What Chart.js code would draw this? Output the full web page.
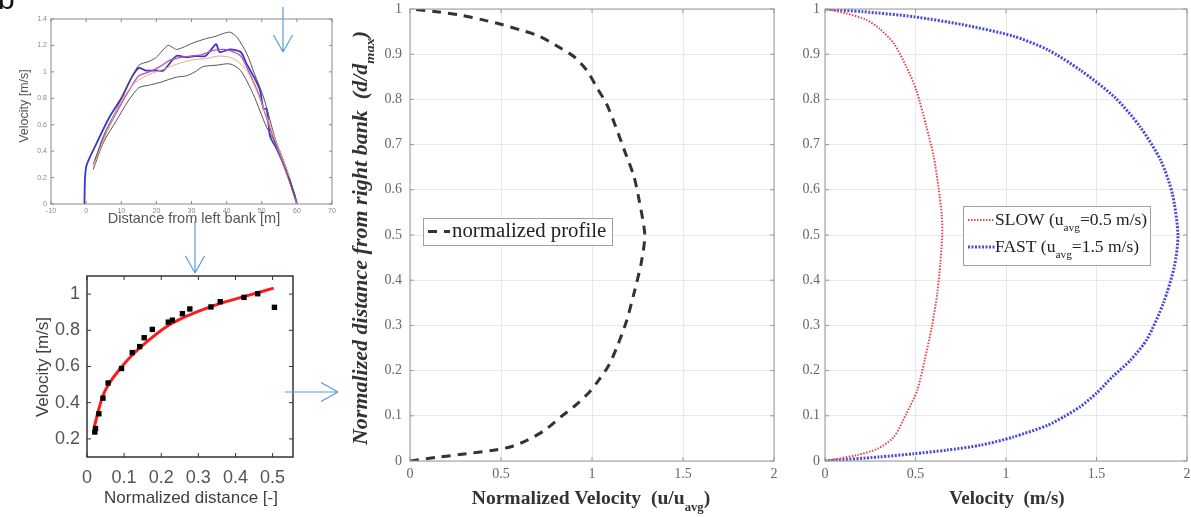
<!DOCTYPE html>
<html>
<head>
<meta charset="utf-8">
<script src="https://cdn.jsdelivr.net/npm/chart.js@4.4.1/dist/chart.umd.min.js"></script>
<style>
  body { margin: 0; background: #fff; width: 1191px; height: 517px; overflow: hidden; position: relative; }
  .panel { position: absolute; }
  #arrows { position: absolute; left: 0; top: 0; pointer-events: none; }
</style>
</head>
<body>
<div class="panel" style="left:0;top:0;width:340px;height:232px"><canvas id="crossChart"></canvas></div>
<div class="panel" style="left:0;top:240px;width:340px;height:277px"><canvas id="fitChart"></canvas></div>
<div class="panel" style="left:340px;top:0;width:440px;height:517px"><canvas id="normChart"></canvas></div>
<div class="panel" style="left:780px;top:0;width:411px;height:517px"><canvas id="speedChart"></canvas></div>
<canvas id="arrows" width="1191" height="517"></canvas>
<script>
// ---- cross-section velocity (top left) ----
const crossTicksX = [-10, 0, 10, 20, 30, 40, 50, 60, 70];
const crossTicksY = [0, 0.2, 0.4, 0.6, 0.8, 1, 1.2, 1.4];
const blueX = [-0.5, 0, 3, 6.7, 10, 13, 15, 17, 20, 22, 25.7, 28.6, 31, 34, 37, 38, 41, 44, 45.7, 48, 49.5, 50.5, 51.4, 52.4, 54, 57, 59.5, 60];
const blueY = [0, 0.28, 0.46, 0.66, 0.8, 0.96, 1.03, 1.01, 1.01, 1.01, 1.12, 1.11, 1.12, 1.12, 1.21, 1.15, 1.17, 1.15, 1.06, 0.95, 0.86, 0.72, 0.72, 0.51, 0.43, 0.25, 0.055, 0];
const upperX = [2.5, 5, 8.6, 12, 15, 18, 20, 23.3, 25.7, 28, 30.5, 34, 37, 39, 41, 43, 45.7, 48, 50.5, 54, 57, 59.5];
const upperY = [0.33, 0.52, 0.71, 0.9, 1.05, 1.08, 1.11, 1.2, 1.17, 1.19, 1.22, 1.25, 1.27, 1.29, 1.3, 1.26, 1.14, 0.98, 0.81, 0.48, 0.27, 0.06];
const lowerX = [2, 5, 8.6, 12, 15, 18, 21, 25.7, 28.6, 31, 33.3, 37, 41, 44, 47.6, 51.4, 55, 57.5, 59.5];
const lowerY = [0.26, 0.47, 0.63, 0.78, 0.88, 0.9, 0.92, 0.96, 0.97, 1.0, 1.04, 1.05, 1.06, 1.01, 0.83, 0.58, 0.41, 0.22, 0.04];
const magentaX = [2, 5, 8, 12, 15, 18, 21, 24, 27, 30, 33, 36, 39, 41, 44, 46, 49, 52, 55, 58, 60];
const magentaY = [0.3, 0.5, 0.66, 0.85, 0.97, 1.0, 1.04, 1.09, 1.11, 1.12, 1.13, 1.16, 1.17, 1.16, 1.12, 1.02, 0.84, 0.6, 0.38, 0.16, 0];
const orangeX = [2, 6, 10, 14, 18, 22, 26, 30, 34, 38, 42, 46, 50, 54, 58];
const orangeY = [0.28, 0.55, 0.78, 0.92, 0.98, 1.02, 1.06, 1.09, 1.1, 1.12, 1.1, 1.0, 0.76, 0.48, 0.2];

// ---- velocity vs normalized distance (bottom left) ----
const fitTicksX = [0, 0.1, 0.2, 0.3, 0.4, 0.5];
const fitTicksY = [0.2, 0.4, 0.6, 0.8, 1];
const measX = [0.021, 0.023, 0.032, 0.043, 0.057, 0.093, 0.122, 0.142, 0.154, 0.176, 0.219, 0.23, 0.257, 0.277, 0.334, 0.359, 0.423, 0.46, 0.505];
const measY = [0.238, 0.257, 0.339, 0.425, 0.509, 0.589, 0.677, 0.71, 0.759, 0.805, 0.845, 0.856, 0.892, 0.918, 0.929, 0.958, 0.982, 1.002, 0.927];
const curveX = [0.019, 0.03, 0.043, 0.061, 0.088, 0.124, 0.169, 0.214, 0.268, 0.323, 0.377, 0.43, 0.503];
const curveY = [0.26, 0.35, 0.44, 0.51, 0.585, 0.668, 0.75, 0.82, 0.878, 0.923, 0.96, 0.99, 1.033];

// ---- profiles (middle and right) ----
const profTicksX = [0, 0.5, 1, 1.5, 2];
const profTicksY = [0, 0.1, 0.2, 0.3, 0.4, 0.5, 0.6, 0.7, 0.8, 0.9, 1];
const normDist = [0, 0.009, 0.016, 0.024, 0.031, 0.046, 0.068, 0.098, 0.12, 0.15, 0.175, 0.21, 0.255, 0.31, 0.37, 0.437, 0.5, 0.575, 0.63, 0.685, 0.74, 0.79, 0.824, 0.865, 0.895, 0.92, 0.94, 0.952, 0.965, 0.976, 0.987, 0.994, 1];
const normVel = [0, 0.165, 0.31, 0.46, 0.55, 0.645, 0.74, 0.83, 0.9, 0.98, 1.03, 1.09, 1.14, 1.19, 1.23, 1.27, 1.29, 1.26, 1.23, 1.18, 1.13, 1.08, 1.03, 0.97, 0.9, 0.8, 0.71, 0.62, 0.51, 0.4, 0.27, 0.145, 0];
const slowDist = [0, 0.013, 0.027, 0.053, 0.105, 0.157, 0.222, 0.296, 0.37, 0.437, 0.5, 0.54, 0.606, 0.675, 0.74, 0.82, 0.872, 0.924, 0.957, 0.976, 0.99, 1];
const slowVel = [0, 0.175, 0.29, 0.38, 0.45, 0.51, 0.55, 0.59, 0.62, 0.637, 0.648, 0.646, 0.627, 0.6, 0.56, 0.505, 0.45, 0.38, 0.3, 0.23, 0.12, 0.01];
const fastDist = [0, 0.009, 0.016, 0.024, 0.035, 0.053, 0.079, 0.098, 0.12, 0.15, 0.187, 0.224, 0.27, 0.35, 0.43, 0.5, 0.59, 0.665, 0.74, 0.805, 0.865, 0.91, 0.94, 0.965, 0.983, 0.994, 1];
const fastVel = [0, 0.3, 0.49, 0.67, 0.86, 1.04, 1.23, 1.32, 1.41, 1.5, 1.59, 1.69, 1.78, 1.87, 1.93, 1.95, 1.92, 1.855, 1.74, 1.6, 1.41, 1.23, 1.04, 0.765, 0.49, 0.21, 0];

const SERIF = "'Liberation Serif', 'DejaVu Serif', serif";
const SANS = "'Liberation Sans', Arial, sans-serif";

function pts(xs, ys) {
    return xs.map((x, i) => ({ x: x, y: ys[i] }));
}

// linear axis with a fixed tick list and a fixed box size.
// the label gap comes from an invisible tick mark so it does not inflate the layout padding
function axis(min, max, values, isY, size, font, color, gap, gridColor) {
    return {
        type: 'linear', min: min, max: max,
        afterBuildTicks: s => { s.ticks = values.map(v => ({ value: v })); },
        afterFit: s => { if (isY) s.width = size; else s.height = size; },
        ticks: { font: font, color: color, padding: 0, autoSkip: false, maxRotation: 0,
                 callback: v => String(Math.round(v * 100) / 100) },
        grid: { display: true, color: gridColor || 'rgba(0,0,0,0)', lineWidth: 1,
                drawTicks: true, tickLength: gap, tickColor: 'rgba(0,0,0,0)' },
        border: { display: false }
    };
}

// text with optional subscripts: parts = [[text, isSub], ...]
function drawRich(ctx, t) {
    const fnt = sub => `${t.style || 'normal'} ${t.weight || 'normal'} ${sub ? t.size * 0.65 : t.size}px ${t.family}`;
    ctx.save();
    ctx.translate(t.x, t.y);
    ctx.rotate(t.rot || 0);
    ctx.scale(t.stretch || 1, 1);
    let total = 0;
    t.parts.forEach(p => { ctx.font = fnt(p[1]); total += ctx.measureText(p[0]).width; });
    let cx = t.align === 'left' ? 0 : -total / 2;
    ctx.fillStyle = t.color;
    ctx.textAlign = 'left';
    ctx.textBaseline = 'middle';
    t.parts.forEach(p => {
        ctx.font = fnt(p[1]);
        ctx.fillText(p[0], cx, p[1] ? t.size * 0.45 : 0);
        cx += ctx.measureText(p[0]).width;
    });
    ctx.restore();
}

const decor = {
    crossChart: {
        box: '#8a8a8a', boxWidth: 1, tick: 3,
        texts: [
            { parts: [['Velocity [m/s]']], x: 25, y: 106, rot: -Math.PI / 2, size: 12.5, family: SANS, color: '#555' },
            { parts: [['Distance from left bank [m]']], x: 194, y: 219, size: 14.5, family: SANS, color: '#555' }
        ]
    },
    fitChart: {
        box: '#333', boxWidth: 1.5, tick: 4,
        texts: [
            { parts: [['Velocity [m/s]']], x: 43, y: 127, rot: -Math.PI / 2, size: 17, family: SANS, color: '#404040' },
            { parts: [['Normalized distance [-]']], x: 191, y: 258, size: 17, family: SANS, color: '#404040' }
        ]
    },
    normChart: {
        box: '#999', boxWidth: 1, tick: 4,
        texts: [
            { parts: [['Normalized distance from right bank  (d/d'], ['max', true], [')']], x: 22, y: 238, rot: -Math.PI / 2,
              size: 20, stretch: 1.1, weight: 'bold', style: 'italic', family: SERIF, color: '#333' },
            { parts: [['Normalized Velocity  (u/u'], ['avg', true], [')']], x: 251, y: 499, size: 19, stretch: 1.03,
              weight: 'bold', family: SERIF, color: '#333' }
        ],
        legend: { x: 83, y: 218, w: 189, h: 27, lineFrom: 88, lineTo: 110, textX: 112, size: 20, stretch: 1.04,
                  items: [{ ds: 0, y: 231.5, parts: [['normalized profile']] }] }
    },
    speedChart: {
        box: '#999', boxWidth: 1, tick: 4,
        texts: [
            { parts: [['Velocity  (m/s)']], x: 227, y: 499, size: 19, weight: 'bold', family: SERIF, color: '#333' }
        ],
        legend: { x: 183, y: 206, w: 187, h: 59, lineFrom: 188, lineTo: 215, textX: 215, size: 17.5, stretch: 1,
                  items: [
                      { ds: 0, y: 220, parts: [['SLOW (u'], ['avg', true], ['=0.5 m/s)']] },
                      { ds: 1, y: 247, parts: [['FAST (u'], ['avg', true], ['=1.5 m/s)']] }
                  ] }
    }
};

const panelDecor = {
    id: 'panelDecor',
    afterDraw(chart) {
        const o = decor[chart.canvas.id];
        if (!o) return;
        const ctx = chart.ctx, a = chart.chartArea;
        const sx = chart.scales.x, sy = chart.scales.y;
        ctx.save();
        ctx.strokeStyle = o.box;
        ctx.lineWidth = 1;
        ctx.beginPath();
        sx.ticks.forEach(t => {
            const p = sx.getPixelForValue(t.value);
            ctx.moveTo(p, a.bottom); ctx.lineTo(p, a.bottom - o.tick);
            ctx.moveTo(p, a.top); ctx.lineTo(p, a.top + o.tick);
        });
        sy.ticks.forEach(t => {
            const p = sy.getPixelForValue(t.value);
            ctx.moveTo(a.left, p); ctx.lineTo(a.left + o.tick, p);
            ctx.moveTo(a.right, p); ctx.lineTo(a.right - o.tick, p);
        });
        ctx.stroke();
        ctx.lineWidth = o.boxWidth;
        ctx.strokeRect(a.left, a.top, a.right - a.left, a.bottom - a.top);
        o.texts.forEach(t => drawRich(ctx, t));
        if (o.legend) {
            const L = o.legend;
            ctx.fillStyle = '#fff';
            ctx.fillRect(L.x, L.y, L.w, L.h);
            ctx.strokeStyle = '#a0a0a0';
            ctx.lineWidth = 1;
            ctx.strokeRect(L.x + 0.5, L.y + 0.5, L.w, L.h);
            L.items.forEach(it => {
                const ds = chart.data.datasets[it.ds];
                ctx.save();
                ctx.strokeStyle = ds.borderColor;
                ctx.lineWidth = ds.borderWidth;
                ctx.setLineDash(ds.borderDash || []);
                ctx.beginPath();
                ctx.moveTo(L.lineFrom, it.y);
                ctx.lineTo(L.lineTo, it.y);
                ctx.stroke();
                ctx.restore();
                drawRich(ctx, { parts: it.parts, x: L.textX, y: it.y, size: L.size, stretch: L.stretch,
                                family: SERIF, color: '#222', align: 'left' });
            });
        }
        ctx.restore();
    }
};
Chart.register(panelDecor);

function lineSet(xs, ys, color, width, dash) {
    return { data: pts(xs, ys), showLine: true, borderColor: color, borderWidth: width,
             borderDash: dash || [], pointRadius: 0, tension: 0.25, fill: false };
}

const common = {
    responsive: true, maintainAspectRatio: false, animation: false,
    plugins: { legend: { display: false }, tooltip: { enabled: false } }
};

const tinyFont = { family: SANS, size: 7 };
new Chart(document.getElementById('crossChart'), {
    type: 'scatter',
    data: { datasets: [
        lineSet(orangeX, orangeY, '#e9a97a', 1),
        lineSet(lowerX, lowerY, '#555', 1),
        lineSet(upperX, upperY, '#555', 1),
        lineSet(magentaX, magentaY, '#c04ec0', 1.3),
        lineSet(blueX, blueY, '#3838c8', 1.8)
    ] },
    options: Object.assign({}, common, {
        layout: { padding: { top: 19, right: 8, left: 0, bottom: 0 } },
        scales: {
            x: axis(-10, 70, crossTicksX, false, 28, tinyFont, '#888', 3),
            y: axis(0, 1.4, crossTicksY, true, 51, tinyFont, '#888', 4)
        }
    })
});

const fitFont = { family: SANS, size: 18 };
new Chart(document.getElementById('fitChart'), {
    type: 'scatter',
    data: { datasets: [
        { data: pts(measX, measY), pointStyle: 'rect', pointRadius: 3.8, backgroundColor: '#000', borderColor: '#000', borderWidth: 0 },
        lineSet(curveX, curveY, '#ff1a1a', 3)
    ] },
    options: Object.assign({}, common, {
        layout: { padding: { top: 36, right: 47, left: 0, bottom: 0 } },
        scales: {
            x: axis(0, 0.555, fitTicksX, false, 60, fitFont, '#555', 10),
            y: axis(0.1, 1.1, fitTicksY, true, 87, fitFont, '#555', 7)
        }
    })
});

const serifTicks = { family: SERIF, size: 14 };
new Chart(document.getElementById('normChart'), {
    type: 'scatter',
    data: { datasets: [ lineSet(normVel, normDist, '#333', 3, [9, 7]) ] },
    options: Object.assign({}, common, {
        layout: { padding: { top: 9, right: 6, left: 0, bottom: 0 } },
        scales: {
            x: axis(0, 2, profTicksX, false, 56, serifTicks, '#666', 5, '#e8e8e8'),
            y: axis(0, 1, profTicksY, true, 70, serifTicks, '#666', 8, '#e8e8e8')
        }
    })
});

new Chart(document.getElementById('speedChart'), {
    type: 'scatter',
    data: { datasets: [
        lineSet(slowVel, slowDist, '#e8444c', 2, [1.5, 1.5]),
        lineSet(fastVel, fastDist, '#4a4ad8', 3, [2, 1.5])
    ] },
    options: Object.assign({}, common, {
        layout: { padding: { top: 9, right: 4, left: 0, bottom: 0 } },
        scales: {
            x: axis(0, 2, profTicksX, false, 56, serifTicks, '#666', 5, '#e8e8e8'),
            y: axis(0, 1, profTicksY, true, 45, serifTicks, '#666', 5, '#e8e8e8')
        }
    })
});

// connecting arrows and the panel letter
const actx = document.getElementById('arrows').getContext('2d');
function arrow(x1, y1, x2, y2) {
    const ang = Math.atan2(y2 - y1, x2 - x1), len = 17, half = 9.5;
    actx.beginPath();
    actx.moveTo(x1, y1); actx.lineTo(x2, y2);
    [-1, 1].forEach(s => {
        actx.moveTo(x2 - len * Math.cos(ang) - s * half * Math.sin(ang), y2 - len * Math.sin(ang) + s * half * Math.cos(ang));
        actx.lineTo(x2, y2);
    });
    actx.stroke();
}
actx.strokeStyle = '#5b9bd5';
actx.lineWidth = 1.2;
arrow(283, 7, 283, 52);
arrow(195, 221, 195, 273);
arrow(285, 392, 338, 392);
actx.fillStyle = '#111';
actx.font = '30px ' + SANS;
actx.fillText('b', -2, 9);
</script>
</body>
</html>
